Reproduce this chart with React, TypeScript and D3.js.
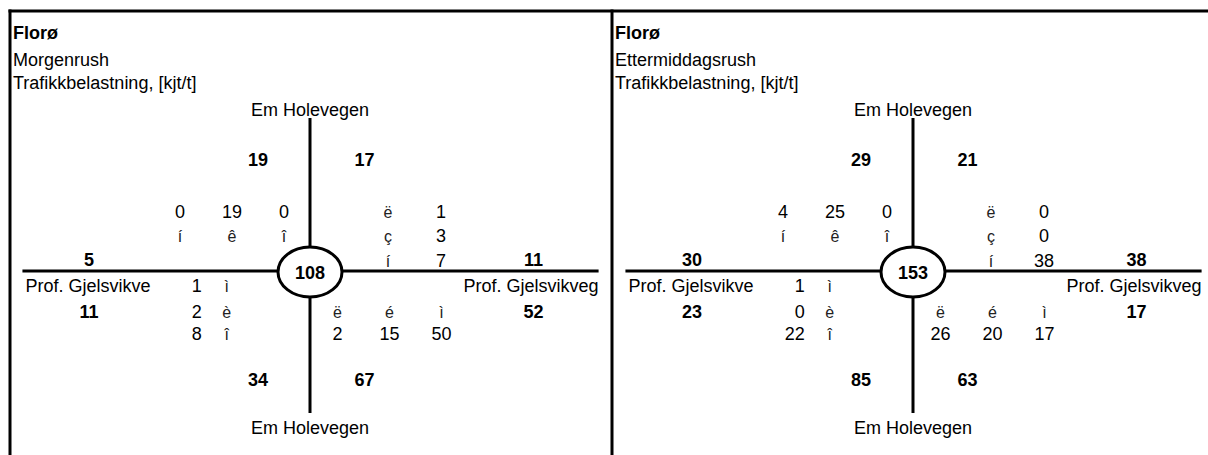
import { scaleLinear } from 'd3'

// Florø — kryssdiagram for morgen- og ettermiddagsrush (to paneler side om side).

const place = 'Florø'
const periods = ['Morgenrush', 'Ettermiddagsrush']
const unitLabel = 'Trafikkbelastning, [kjt/t]'
const roadNS = 'Em Holevegen'
const roadWest = 'Prof. Gjelsvikve'
const roadEast = 'Prof. Gjelsvikveg'

const totals = [108, 153]
// leggsummer per panel
const northLeft = [19, 29]
const northRight = [17, 21]
const southLeft = [34, 85]
const southRight = [67, 63]
const westAbove = [5, 30]
const westBelow = [11, 23]
const eastAbove = [11, 38]
const eastBelow = [52, 17]

// svingebevegelser per panel
const northTurns = [[0, 19, 0], [4, 25, 0]]
const eastTurns = [[1, 3, 7], [0, 0, 38]]
const westTurns = [[1, 2, 8], [1, 0, 22]]
const southTurns = [[2, 15, 50], [26, 20, 17]]

// pilsymboler (Wingdings-tegn vist som tekst)
const northArrows = ['í', 'ê', 'î']
const eastArrows = ['ë', 'ç', 'í']
const westArrows = ['ì', 'è', 'î']
const southArrows = ['ë', 'é', 'ì']

const W = 1208
const H = 455
const FONT = '"Liberation Sans", Arial, Helvetica, sans-serif'
const FS = 18
const CELL = 52
const PANEL_X = [10, 612]
const CENTER_X = [310, 913]
const CY = 271

// radposisjoner relativt til horisontal vei
const ROW = {
  roadTop: -155,
  lineTop: -153,
  legTop: -105,
  turnN1: -53,
  turnN2: -29,
  turnN3: -4,
  legMid: -5,
  roadSide: 21,
  turnS1: 47,
  turnS2: 69,
  legBottom: 115,
  lineBottom: 142,
  roadBottom: 163,
}

function Panel({ i }: { i: number }) {
  const cx = CENTER_X[i]
  const x = scaleLinear().domain([0, 1]).range([cx, cx + CELL])
  const y = (r: number) => CY + r
  const txt = { fontFamily: FONT, fontSize: FS, fill: '#000' }
  const bold = { ...txt, fontWeight: 700 }
  const sym = { ...txt, fontSize: 16, fill: '#222' }
  const px = PANEL_X[i] + 3

  return (
    <g>
      <text x={px} y={39} style={bold}>{place}</text>
      <text x={px} y={66} style={txt}>{periods[i]}</text>
      <text x={px} y={88.5} style={txt}>{unitLabel}</text>

      {/* veier */}
      <line x1={cx} x2={cx} y1={y(ROW.lineTop)} y2={y(ROW.lineBottom)} stroke="#000" strokeWidth={3} />
      <line x1={x(-5.53)} x2={x(5.55)} y1={CY} y2={CY} stroke="#000" strokeWidth={3} />
      <ellipse cx={cx} cy={CY + 1} rx={32} ry={25} fill="#fff" stroke="#000" strokeWidth={3} />
      <text x={cx} y={CY + 7.5} textAnchor="middle" style={bold}>{totals[i]}</text>

      <text x={cx} y={y(ROW.roadTop)} textAnchor="middle" style={txt}>{roadNS}</text>
      <text x={cx} y={y(ROW.roadBottom)} textAnchor="middle" style={txt}>{roadNS}</text>
      <text x={x(-5.47)} y={y(ROW.roadSide)} style={txt}>{roadWest}</text>
      <text x={x(5.55)} y={y(ROW.roadSide)} textAnchor="end" style={txt}>{roadEast}</text>

      {/* leggsummer */}
      <text x={x(-1)} y={y(ROW.legTop)} textAnchor="middle" style={bold}>{northLeft[i]}</text>
      <text x={x(1.05)} y={y(ROW.legTop)} textAnchor="middle" style={bold}>{northRight[i]}</text>
      <text x={x(-1)} y={y(ROW.legBottom)} textAnchor="middle" style={bold}>{southLeft[i]}</text>
      <text x={x(1.05)} y={y(ROW.legBottom)} textAnchor="middle" style={bold}>{southRight[i]}</text>
      <text x={x(-4.25)} y={y(ROW.legMid)} textAnchor="middle" style={bold}>{westAbove[i]}</text>
      <text x={x(-4.25)} y={y(ROW.turnS1)} textAnchor="middle" style={bold}>{westBelow[i]}</text>
      <text x={x(4.3)} y={y(ROW.legMid)} textAnchor="middle" style={bold}>{eastAbove[i]}</text>
      <text x={x(4.3)} y={y(ROW.turnS1)} textAnchor="middle" style={bold}>{eastBelow[i]}</text>

      {/* nord: tall over piler */}
      {northTurns[i].map((v, k) => (
        <text key={'nv' + k} x={x(-2.5 + k)} y={y(ROW.turnN1)} textAnchor="middle" style={txt}>{v}</text>
      ))}
      {northArrows.map((a, k) => (
        <text key={'na' + k} x={x(-2.5 + k)} y={y(ROW.turnN2)} textAnchor="middle" style={sym}>{a}</text>
      ))}

      {/* øst: piler og tall i to kolonner */}
      {eastArrows.map((a, k) => (
        <text key={'ea' + k} x={x(1.5)} y={y([ROW.turnN1, ROW.turnN2, ROW.turnN3][k])} textAnchor="middle" style={sym}>{a}</text>
      ))}
      {eastTurns[i].map((v, k) => (
        <text key={'ev' + k} x={x(2.52)} y={y([ROW.turnN1, ROW.turnN2, ROW.turnN3][k])} textAnchor="middle" style={txt}>{v}</text>
      ))}

      {/* vest: tall og piler */}
      {westTurns[i].map((v, k) => (
        <text key={'wv' + k} x={x(-2.08)} y={y([ROW.roadSide, ROW.turnS1, ROW.turnS2][k])} textAnchor="end" style={txt}>{v}</text>
      ))}
      {westArrows.map((a, k) => (
        <text key={'wa' + k} x={x(-1.6)} y={y([ROW.roadSide, ROW.turnS1, ROW.turnS2][k])} textAnchor="middle" style={sym}>{a}</text>
      ))}

      {/* sør: piler over tall */}
      {southArrows.map((a, k) => (
        <text key={'sa' + k} x={x(0.53 + k)} y={y(ROW.turnS1)} textAnchor="middle" style={sym}>{a}</text>
      ))}
      {southTurns[i].map((v, k) => (
        <text key={'sv' + k} x={x(0.53 + k)} y={y(ROW.turnS2)} textAnchor="middle" style={txt}>{v}</text>
      ))}
    </g>
  )
}

export default function App() {
  return (
    <svg width={W} height={H} viewBox={`0 0 ${W} ${H}`} style={{ position: 'absolute', left: 0, top: 0, background: '#fff' }}>
      <rect x={0} y={0} width={W} height={H} fill="#fff" />
      <line x1={8.5} x2={W} y1={11} y2={11} stroke="#000" strokeWidth={3} />
      <line x1={PANEL_X[0]} x2={PANEL_X[0]} y1={9.5} y2={H} stroke="#000" strokeWidth={3} />
      <line x1={PANEL_X[1]} x2={PANEL_X[1]} y1={9.5} y2={H} stroke="#000" strokeWidth={3} />
      {periods.map((_, i) => (
        <Panel key={i} i={i} />
      ))}
    </svg>
  )
}
